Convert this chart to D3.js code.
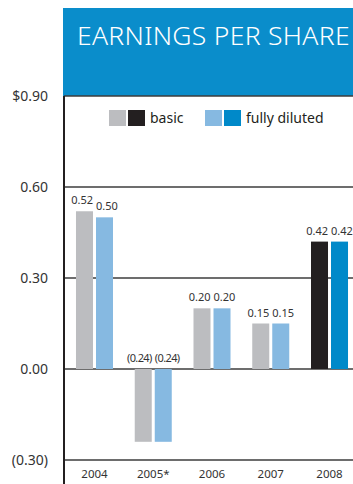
<!DOCTYPE html>
<html>
<head>
<meta charset="utf-8">
<script src="https://cdn.jsdelivr.net/npm/d3@7/dist/d3.min.js"></script>
<style>
  html, body { margin: 0; padding: 0; background: #fff; }
  svg { display: block; font-family: "Noto Sans", "DejaVu Sans", sans-serif; }
</style>
</head>
<body>
<svg id="chart" width="353" height="484"></svg>
<script>
// Earnings per share by year, basic vs fully diluted
const years = ["2004", "2005*", "2006", "2007", "2008"];
const basic = [0.52, -0.24, 0.20, 0.15, 0.42];
const diluted = [0.50, -0.24, 0.20, 0.15, 0.42];
const tickValues = [0.90, 0.60, 0.30, 0.00, -0.30];
const tickLabels = ["$0.90", "0.60", "0.30", "0.00", "(0.30)"];
const seriesKeys = ["basic", "diluted"];
const seriesNames = ["basic", "fully diluted"];

const colors = {
  basic: "#bcbdc0",
  diluted: "#86b9e1",
  basicCurrent: "#231f20",
  dilutedCurrent: "#0089c9",
  header: "#0a8dcb"
};

const svg = d3.select("#chart");
const W = 353;
const axisX = 64;

const y = d3.scaleLinear().domain([-0.30, 0.90]).range([460, 96]);

const x0 = d3.scaleBand()
  .domain(years)
  .range([axisX, 360])
  .paddingInner(0.37)
  .paddingOuter(0.204);

const x1 = d3.scaleBand()
  .domain(seriesKeys)
  .range([0, x0.bandwidth()])
  .paddingInner(0.15);

// Header band
svg.append("rect")
  .attr("x", 63).attr("y", 8)
  .attr("width", W - 63).attr("height", y(0.90) - 8)
  .attr("fill", colors.header);

svg.append("text")
  .attr("x", 77).attr("y", 45)
  .attr("fill", "#fff")
  .attr("font-size", 26.5)
  .attr("font-weight", 300)
  .attr("letter-spacing", 0.3)
  .text("EARNINGS PER SHARE");

// Horizontal gridlines
svg.append("g")
  .selectAll("line")
  .data(tickValues)
  .join("line")
  .attr("x1", axisX).attr("x2", W)
  .attr("y1", d => y(d)).attr("y2", d => y(d))
  .attr("stroke", "#3d3d3d")
  .attr("stroke-width", 1.5);

// Tick labels
svg.append("g")
  .selectAll("text")
  .data(tickValues)
  .join("text")
  .attr("x", 48)
  .attr("y", d => y(d) + 5)
  .attr("text-anchor", "end")
  .attr("font-size", 14)
  .attr("fill", "#333")
  .text((d, i) => tickLabels[i]);

// Bars
const rows = years.map((yr, i) => ({ year: yr, i, basic: basic[i], diluted: diluted[i] }));
const groups = svg.append("g")
  .selectAll("g")
  .data(rows)
  .join("g")
  .attr("transform", d => `translate(${x0(d.year)},0)`);

function barColor(key, i) {
  const current = i === years.length - 1;
  if (key === "basic") return current ? colors.basicCurrent : colors.basic;
  return current ? colors.dilutedCurrent : colors.diluted;
}

function fmt(v) {
  const s = d3.format(".2f")(Math.abs(v));
  return v < 0 ? `(${s})` : s;
}

groups.selectAll("rect")
  .data(d => seriesKeys.map(k => ({ key: k, value: d[k], i: d.i })))
  .join("rect")
  .attr("x", d => x1(d.key))
  .attr("width", x1.bandwidth())
  .attr("y", d => y(Math.max(0, d.value)))
  .attr("height", d => Math.abs(y(d.value) - y(0)))
  .attr("fill", d => barColor(d.key, d.i));

// Value labels: basic ends at its bar's right edge, diluted starts at its bar's left edge
groups.selectAll("text.val")
  .data(d => seriesKeys.map(k => ({ key: k, value: d[k], i: d.i })))
  .join("text")
  .attr("class", "val")
  .attr("x", d => d.key === "basic" ? x1(d.key) + x1.bandwidth() : x1(d.key))
  .attr("y", d => y(Math.max(0, d.value)) - 7)
  .attr("text-anchor", d => d.key === "basic" ? "end" : "start")
  .attr("font-size", 11)
  .attr("letter-spacing", d => d.value < 0 ? -0.6 : 0)
  .attr("fill", "#333")
  .text(d => fmt(d.value));

// Year labels
svg.append("g")
  .selectAll("text")
  .data(years)
  .join("text")
  .attr("x", d => x0(d) + x0.bandwidth() / 2)
  .attr("y", 478)
  .attr("text-anchor", "middle")
  .attr("font-size", 11.5)
  .attr("fill", "#333")
  .text(d => d);

// Vertical axis
svg.append("line")
  .attr("x1", axisX).attr("x2", axisX)
  .attr("y1", y(0.90)).attr("y2", 484)
  .attr("stroke", "#231f20")
  .attr("stroke-width", 2);

// Legend
const legendItems = [
  { name: seriesNames[0], swatches: [colors.basic, colors.basicCurrent], x: 109 },
  { name: seriesNames[1], swatches: [colors.diluted, colors.dilutedCurrent], x: 205 }
];
const legend = svg.append("g");
legendItems.forEach(item => {
  item.swatches.forEach((c, j) => {
    legend.append("rect")
      .attr("x", item.x + j * 19).attr("y", 110)
      .attr("width", 17).attr("height", 16)
      .attr("fill", c);
  });
  legend.append("text")
    .attr("x", item.x + 41).attr("y", 123)
    .attr("font-size", 14)
    .attr("fill", "#231f20")
    .text(item.name);
});
</script>
</body>
</html>
